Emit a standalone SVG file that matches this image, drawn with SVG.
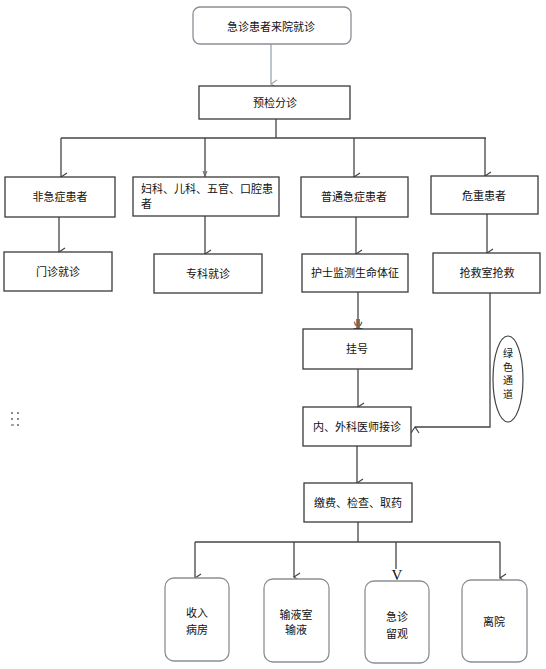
<svg xmlns="http://www.w3.org/2000/svg" width="546" height="669" viewBox="0 0 546 669">
<defs>
<style>
.b{fill:#fff;stroke:#3a3a3a;stroke-width:1.3}
.r{fill:#fff;stroke:#8a8f94;stroke-width:1.3}
.t{font-family:"Noto Sans CJK SC","Liberation Sans",sans-serif;font-size:11px;fill:#111;text-anchor:middle}
.tl{font-family:"Noto Sans CJK SC","Liberation Sans",sans-serif;font-size:11px;fill:#111}
.tv{font-family:"Noto Sans CJK SC","Liberation Sans",sans-serif;font-size:10px;fill:#111;text-anchor:middle}
.c{fill:none;stroke:#444;stroke-width:1.3}
</style>
<marker id="a" markerWidth="10" markerHeight="10" refX="5" refY="8" orient="auto" markerUnits="userSpaceOnUse" viewBox="0 0 10 10">
<polyline points="1,2 5,8 9,2" fill="none" stroke="#444" stroke-width="1.2"/>
</marker>
<marker id="ag" markerWidth="10" markerHeight="10" refX="5" refY="8" orient="auto" markerUnits="userSpaceOnUse" viewBox="0 0 10 10">
<polyline points="1,2 5,8 9,2" fill="none" stroke="#9aa8b4" stroke-width="1.2"/>
</marker>
</defs>
<rect width="546" height="669" fill="#fff"/>
<g id="connectors">
<line x1="271" y1="44" x2="271" y2="84" stroke="#9aa8b4" stroke-width="1.3" marker-end="url(#ag)"/>
<polyline class="c" points="276,119 276,138"/>
<polyline class="c" points="61,138 486,138"/>
<line class="c" x1="61" y1="138" x2="61" y2="177" marker-end="url(#a)"/>
<line class="c" x1="205" y1="138" x2="205" y2="177"/>
<polyline points="203,171 205,176 207,171" fill="none" stroke="#666" stroke-width="1"/>
<line class="c" x1="354" y1="138" x2="354" y2="177" marker-end="url(#a)"/>
<line class="c" x1="485" y1="138" x2="485" y2="176" marker-end="url(#a)"/>
<line class="c" x1="59" y1="217" x2="59" y2="252" marker-end="url(#a)"/>
<line class="c" x1="205" y1="216" x2="205" y2="254" marker-end="url(#a)"/>
<line class="c" x1="356" y1="217" x2="356" y2="254" marker-end="url(#a)"/>
<line class="c" x1="487" y1="214" x2="487" y2="253" marker-end="url(#a)"/>
<line class="c" x1="358" y1="292" x2="358" y2="329"/>
<line class="c" x1="358" y1="369" x2="358" y2="407" marker-end="url(#a)"/>
<polyline class="c" points="490,293 490,427 415,427" marker-end="url(#a)"/>
<line class="c" x1="357" y1="446" x2="357" y2="483" marker-end="url(#a)"/>
<polyline class="c" points="358,522 358,542"/>
<polyline class="c" points="195,542 500,542"/>
<line class="c" x1="195" y1="542" x2="195" y2="578" marker-end="url(#a)"/>
<line class="c" x1="294" y1="542" x2="294" y2="577" marker-end="url(#a)"/>
<line class="c" x1="396" y1="542" x2="396" y2="569"/>
<line class="c" x1="500" y1="542" x2="500" y2="578" marker-end="url(#a)"/>
</g>
<g id="n1"><rect class="r" x="193" y="7" width="158" height="37" rx="7"/><text class="t" x="271" y="31">急诊患者来院就诊</text></g>
<g id="n2"><rect class="b" x="199" y="86" width="151" height="33"/><text class="t" x="275" y="107">预检分诊</text></g>
<g id="n3"><rect class="b" x="5" y="177" width="110" height="40"/><text class="t" x="60" y="201">非急症患者</text></g>
<g id="n4"><rect class="b" x="133" y="177" width="146" height="39"/><text class="tl" x="141" y="193">妇科、儿科、五官、口腔患</text><text class="tl" x="141" y="208">者</text></g>
<g id="n5"><rect class="b" x="301" y="177" width="107" height="40"/><text class="t" x="354" y="201">普通急症患者</text></g>
<g id="n6"><rect class="b" x="431" y="176" width="107" height="38"/><text class="t" x="484" y="200">危重患者</text></g>
<g id="n7"><rect class="b" x="4" y="252" width="108" height="39"/><text class="t" x="58" y="276">门诊就诊</text></g>
<g id="n8"><rect class="b" x="154" y="254" width="108" height="39"/><text class="t" x="208" y="278">专科就诊</text></g>
<g id="n9"><rect class="b" x="302" y="254" width="106" height="38"/><text class="t" x="355" y="277">护士监测生命体征</text></g>
<g id="n10"><rect class="b" x="433" y="253" width="107" height="40"/><text class="t" x="487" y="277">抢救室抢救</text></g>
<g id="n11"><text class="t" x="358" y="328" style="font-size:10px">业</text><rect class="b" x="303" y="329" width="109" height="40"/><text class="t" x="357" y="353">挂号</text></g>
<g id="n12"><rect class="b" x="303" y="407" width="108" height="39"/><text class="t" x="357" y="431">内、外科医师接诊</text></g>
<g id="n13"><ellipse cx="508" cy="379" rx="15" ry="43" fill="#fff" stroke="#444" stroke-width="1.2"/><text class="tv" x="508" y="357">绿</text><text class="tv" x="508" y="370.5">色</text><text class="tv" x="508" y="384">通</text><text class="tv" x="508" y="397.5">道</text></g>
<g id="n14"><rect class="b" x="304" y="483" width="108" height="39"/><text class="t" x="358" y="507">缴费、检查、取药</text></g>
<g id="n15"><rect class="r" x="165" y="578" width="64" height="83" rx="9"/><text class="t" x="197" y="617">收入</text><text class="t" x="197" y="634">病房</text></g>
<g id="n16"><rect class="r" x="264" y="579" width="65" height="83" rx="9"/><text class="t" x="296" y="619">输液室</text><text class="t" x="296" y="634">输液</text></g>
<g id="n17"><text x="397" y="580" style="font-family:'Liberation Serif',serif;font-size:15px;fill:#111;text-anchor:middle">V</text><rect class="r" x="365" y="581" width="64" height="82" rx="9"/><text class="t" x="397" y="621">急诊</text><text class="t" x="397" y="638">留观</text></g>
<g id="n18"><rect class="r" x="462" y="580" width="65" height="82" rx="9"/><text class="t" x="494" y="626">离院</text></g>
<g id="dots" fill="#8a8a8a">
<rect x="11" y="412" width="2" height="2"/><rect x="17" y="412" width="2" height="2"/>
<rect x="11" y="418" width="2" height="2"/><rect x="17" y="418" width="2" height="2"/>
<rect x="11" y="424" width="3" height="2" fill="#9aa6c8"/><rect x="17" y="424" width="2" height="2"/>
</g>
</svg>
